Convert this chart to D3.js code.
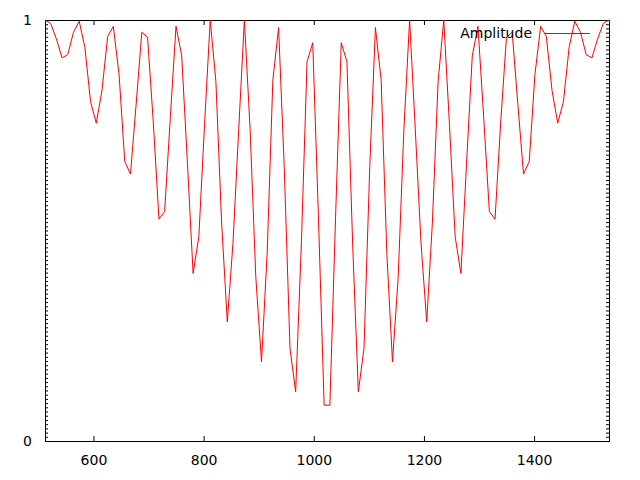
<!DOCTYPE html>
<html>
<head>
<meta charset="utf-8">
<script src="https://cdn.jsdelivr.net/npm/d3@7"></script>
<style>
  body { margin: 0; background: #fff; }
  text { font-family: "DejaVu Sans", sans-serif; font-size: 14px; fill: #000; }
</style>
</head>
<body>
<div id="chart"></div>
<script>
// sample positions
var freq = [512.0,522.3,532.7,543.0,553.4,563.7,574.1,584.4,594.7,605.1,
  615.4,625.8,636.1,646.5,656.8,667.2,677.5,687.8,698.2,708.5,
  718.9,729.2,739.6,749.9,760.2,770.6,780.9,791.3,801.6,812.0,
  822.3,832.6,843.0,853.3,863.7,874.0,884.4,894.7,905.1,915.4,
  925.7,936.1,946.4,956.8,967.1,977.5,987.8,998.1,1008.5,1018.8,
  1029.2,1039.5,1049.9,1060.2,1070.5,1080.9,1091.2,1101.6,1111.9,1122.3,
  1132.6,1142.9,1153.3,1163.6,1174.0,1184.3,1194.7,1205.0,1215.4,1225.7,
  1236.0,1246.4,1256.7,1267.1,1277.4,1287.8,1298.1,1308.4,1318.8,1329.1,
  1339.5,1349.8,1360.2,1370.5,1380.8,1391.2,1401.5,1411.9,1422.2,1432.6,
  1442.9,1453.3,1463.6,1473.9,1484.3,1494.6,1505.0,1515.3,1525.7,1536.0];

var amplitude = [1.0,0.992,0.955,0.91,0.918,0.971,0.997,0.935,0.806,0.755,
  0.832,0.961,0.985,0.87,0.664,0.634,0.80,0.971,0.959,0.76,
  0.527,0.545,0.77,0.985,0.915,0.66,0.398,0.485,0.75,1.0,
  0.853,0.52,0.283,0.47,0.74,1.0,0.74,0.39,0.188,0.447,
  0.857,0.982,0.65,0.22,0.117,0.47,0.901,0.946,0.53,0.085,
  0.085,0.53,0.946,0.901,0.47,0.117,0.22,0.65,0.982,0.857,
  0.447,0.188,0.39,0.74,1.0,0.74,0.47,0.283,0.52,0.853,
  1.0,0.75,0.485,0.398,0.66,0.915,0.985,0.77,0.545,0.527,
  0.76,0.959,0.971,0.80,0.634,0.664,0.87,0.985,0.961,0.832,
  0.755,0.806,0.935,0.997,0.971,0.918,0.91,0.955,0.992,1.0];

var xTicks = [600, 800, 1000, 1200, 1400];
var yTicks = [0, 1];
var seriesName = "Amplitude";

var drawChart = function () {
  var width = 640, height = 480;
  var pLeft = 45, pTop = 20, pRight = 609, pBottom = 441;

  var svg = d3.select('#chart').append('svg')
    .attr('width', width)
    .attr('height', height);

  var x = d3.scaleLinear().domain([512, 1536]).range([pLeft, pRight]);
  var y = d3.scaleLinear().domain([0, 1]).range([pBottom, pTop]);

  // minor y ticks, every 0.01
  var minor = d3.range(0, 101).map(function (k) { return k / 100; });

  // bottom axis, ticks point inward
  svg.append('g')
    .attr('transform', 'translate(0,' + pBottom + ')')
    .call(d3.axisBottom(x).tickValues(xTicks).tickSize(-5).tickPadding(14).tickFormat(d3.format('d')));

  // top mirror ticks
  svg.append('g')
    .attr('transform', 'translate(0,' + pTop + ')')
    .call(d3.axisTop(x).tickValues(xTicks).tickSize(-5).tickFormat(''));

  // left labels + minor ticks
  svg.append('g')
    .attr('transform', 'translate(' + pLeft + ',0)')
    .call(d3.axisLeft(y).tickValues(yTicks).tickSize(-5).tickPadding(13).tickFormat(d3.format('d')));
  svg.append('g')
    .attr('transform', 'translate(' + pLeft + ',0)')
    .call(d3.axisLeft(y).tickValues(minor).tickSize(-3).tickFormat(''));

  // right minor ticks
  svg.append('g')
    .attr('transform', 'translate(' + pRight + ',0)')
    .call(d3.axisRight(y).tickValues(minor).tickSize(-3).tickFormat(''));

  svg.selectAll('.domain').remove();
  svg.selectAll('.tick line').attr('stroke', '#000');
  svg.selectAll('.tick text')
    .style('font-family', '"DejaVu Sans", sans-serif')
    .style('font-size', '14px')
    .attr('fill', '#000');

  // border box
  svg.append('rect')
    .attr('x', pLeft + 0.5)
    .attr('y', pTop + 0.5)
    .attr('width', pRight - pLeft)
    .attr('height', pBottom - pTop)
    .attr('fill', 'none')
    .attr('stroke', '#000')
    .attr('stroke-width', 1);

  var data = freq.map(function (f, i) { return { f: f, a: amplitude[i] }; });

  var line = d3.line()
    .x(function (d) { return x(d.f); })
    .y(function (d) { return y(d.a); });

  svg.append('path')
    .datum(data)
    .attr('d', line)
    .attr('fill', 'none')
    .attr('stroke', '#ff0000')
    .attr('stroke-width', 1);

  // legend
  svg.append('text')
    .attr('x', 532)
    .attr('y', 38)
    .attr('text-anchor', 'end')
    .text(seriesName);
  svg.append('line')
    .attr('x1', 545).attr('x2', 590)
    .attr('y1', 33.5).attr('y2', 33.5)
    .attr('stroke', '#ff0000')
    .attr('stroke-width', 1);
};
drawChart();
</script>
</body>
</html>
